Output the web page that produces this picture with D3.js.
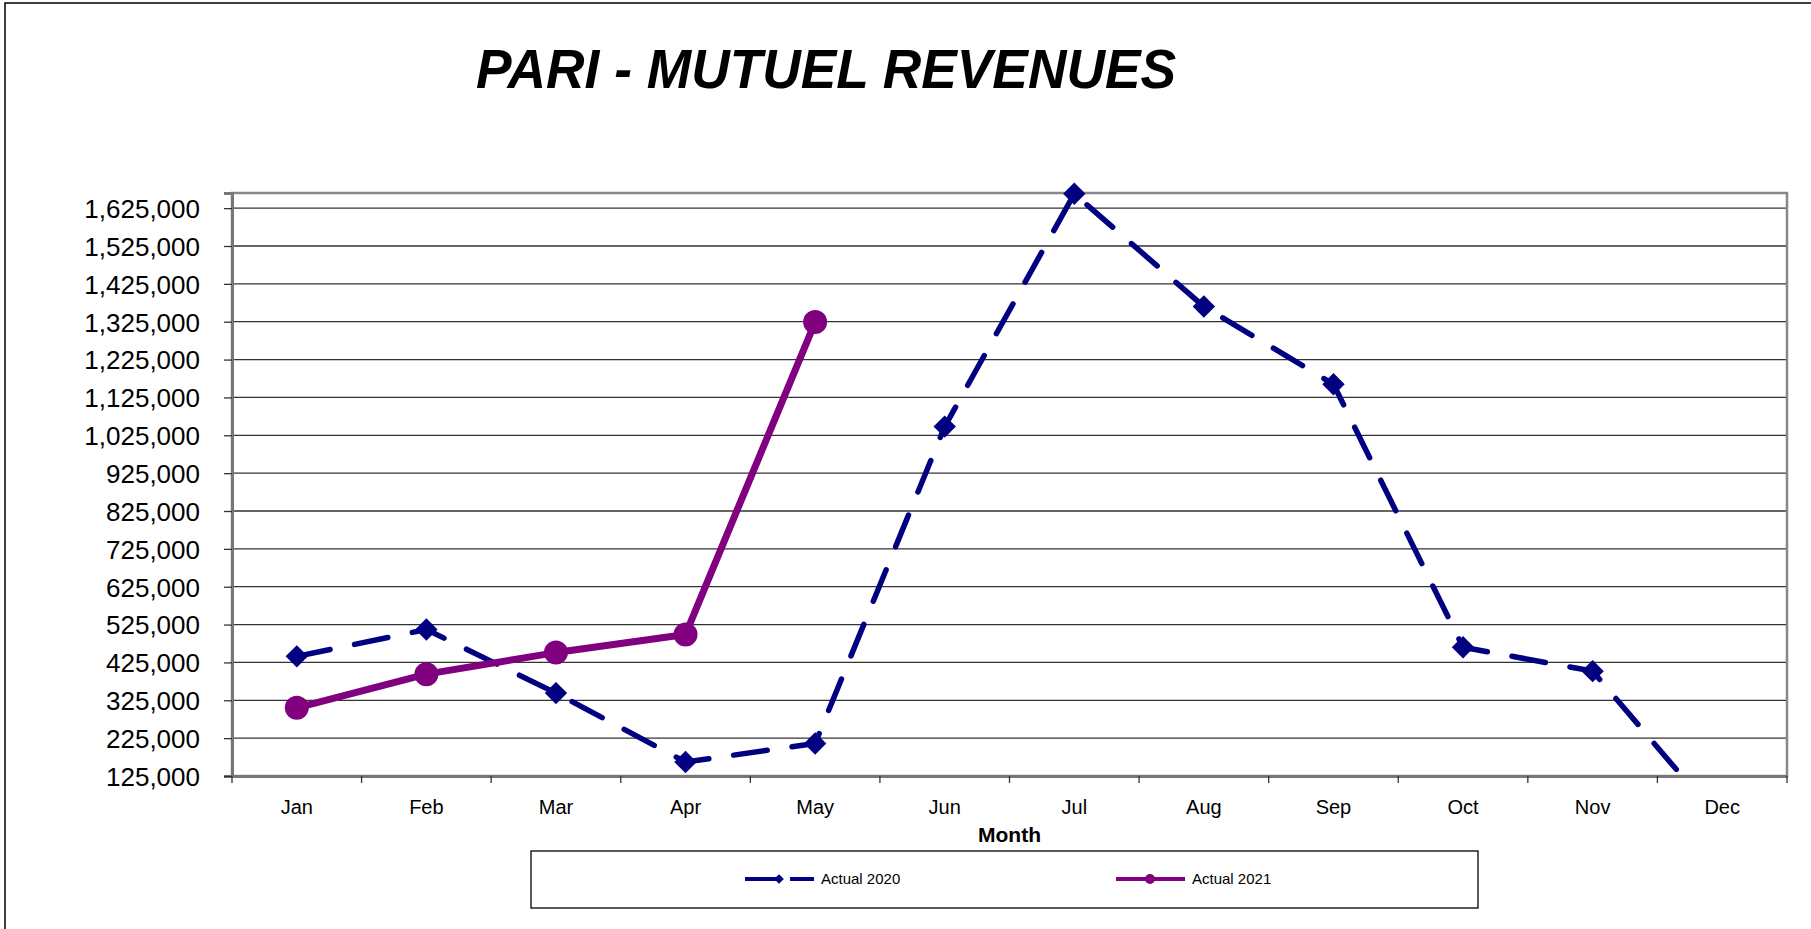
<!DOCTYPE html>
<html>
<head>
<meta charset="utf-8">
<script src="https://cdn.jsdelivr.net/npm/d3@7"></script>
<style>
  body { margin: 0; background: #fff; }
  svg { display: block; font-family: Arial, "Liberation Sans", sans-serif; }
</style>
</head>
<body>
<div class="vis-line-revenue"></div>
<script>
const months = ['Jan', 'Feb', 'Mar', 'Apr', 'May', 'Jun', 'Jul', 'Aug', 'Sep', 'Oct', 'Nov', 'Dec'];
const actual2020 = [441000, 512000, 344000, 162000, 211000, 1048000, 1663000, 1365000, 1160000, 465000, 402000, 0];
const actual2021 = [305000, 394000, 451000, 499000, 1324000];
const yTicks = [125000, 225000, 325000, 425000, 525000, 625000, 725000, 825000, 925000,
    1025000, 1125000, 1225000, 1325000, 1425000, 1525000, 1625000];

const outerWidth = 1811, outerHeight = 929;
const margin = {top: 193, right: 24, bottom: 153, left: 232};
const width = outerWidth - margin.left - margin.right;
const height = outerHeight - margin.top - margin.bottom;

const svg = d3.select('.vis-line-revenue')
    .append('svg')
    .attr('width', outerWidth)
    .attr('height', outerHeight);

// outer chart frame (only left and top edges visible)
svg.append('rect')
    .attr('x', 5).attr('y', 3)
    .attr('width', outerWidth + 10).attr('height', outerHeight + 10)
    .attr('fill', 'none').attr('stroke', '#000').attr('stroke-width', 1.5);

svg.append('text')
    .attr('x', 476).attr('y', 88)
    .attr('textLength', 700).attr('lengthAdjust', 'spacingAndGlyphs')
    .style('font-size', '56px').style('font-weight', 'bold').style('font-style', 'italic')
    .text('PARI - MUTUEL REVENUES');

const g = svg.append('g')
    .attr('transform', 'translate(' + margin.left + ',' + margin.top + ')');

const x = d3.scaleBand().domain(months).range([0, width]);
const y = d3.scaleLinear().domain([125000, 1665000]).range([height, 0]);

// gridlines
g.selectAll('.grid')
    .data(yTicks.slice(1))
    .enter().append('line')
    .attr('x1', 0).attr('x2', width)
    .attr('y1', d => y(d)).attr('y2', d => y(d))
    .attr('stroke', '#333').attr('stroke-width', 1.3);

g.append('rect')
    .attr('width', width).attr('height', height)
    .attr('fill', 'none').attr('stroke', '#888').attr('stroke-width', 2.5);

// y axis
const yAxis = g.append('g')
    .call(d3.axisLeft(y).tickValues(yTicks).tickSize(8).tickPadding(24)
        .tickFormat(d3.format(',')));
yAxis.select('.domain').attr('stroke', '#777').attr('stroke-width', 3);
yAxis.selectAll('.tick line').attr('stroke', '#333').attr('stroke-width', 1.3);
yAxis.selectAll('text').style('font-size', '26px').attr('fill', '#000').attr('dy', '0.36em');

// x axis, ticks between categories
const xAxis = g.append('g')
    .attr('transform', 'translate(0,' + height + ')')
    .call(d3.axisBottom(x).tickSize(0).tickPadding(24));
xAxis.select('.domain').attr('stroke', '#777').attr('stroke-width', 3);
xAxis.selectAll('text').style('font-size', '20px').attr('fill', '#000');

g.selectAll('.xtick')
    .data(d3.range(months.length + 1))
    .enter().append('line')
    .attr('x1', i => i * x.step()).attr('x2', i => i * x.step())
    .attr('y1', height).attr('y2', height + 7)
    .attr('stroke', '#333').attr('stroke-width', 1.3);

g.append('text')
    .attr('x', width / 2).attr('y', height + 66)
    .attr('text-anchor', 'middle')
    .style('font-size', '21px').style('font-weight', 'bold')
    .text('Month');

// lines clipped to plot area
g.append('clipPath').attr('id', 'plot-clip')
    .append('rect').attr('width', width).attr('height', height);

const line = d3.line()
    .x((d, i) => x(months[i]) + x.bandwidth() / 2)
    .y(d => y(d));

g.append('path')
    .datum(actual2020)
    .attr('clip-path', 'url(#plot-clip)')
    .attr('d', line)
    .attr('fill', 'none').attr('stroke', '#000080').attr('stroke-width', 5.5)
    .attr('stroke-linecap', 'round')
    .attr('stroke-dasharray', '34,25');

g.append('path')
    .datum(actual2021)
    .attr('d', line)
    .attr('fill', 'none').attr('stroke', '#800080').attr('stroke-width', 7)
    .attr('stroke-linejoin', 'round');

const diamond = d3.symbol().type(d3.symbolDiamond2).size(320);
const shown2020 = actual2020.map((v, i) => ({v, i})).filter(d => d.v >= y.domain()[0]);

g.selectAll('.m2020')
    .data(shown2020)
    .enter().append('path')
    .attr('d', diamond)
    .attr('transform', d => 'translate(' + (x(months[d.i]) + x.bandwidth() / 2) + ',' + y(d.v) + ')')
    .attr('fill', '#000080');

g.selectAll('.m2021')
    .data(actual2021)
    .enter().append('circle')
    .attr('cx', (d, i) => x(months[i]) + x.bandwidth() / 2)
    .attr('cy', d => y(d))
    .attr('r', 12)
    .attr('fill', '#800080');

// legend
svg.append('rect')
    .attr('x', 531).attr('y', 851).attr('width', 947).attr('height', 57)
    .attr('fill', '#fff').attr('stroke', '#000').attr('stroke-width', 1.3);

const legendData = [
    {label: 'Actual 2020', color: '#000080', dash: '37,8', x: 745, marker: 'diamond'},
    {label: 'Actual 2021', color: '#800080', dash: null, x: 1116, marker: 'circle'},
];

const legendG = svg.selectAll('.legend')
    .data(legendData)
    .enter().append('g')
    .attr('class', 'legend')
    .attr('transform', d => 'translate(' + d.x + ',' + 879 + ')');

legendG.append('line')
    .attr('x1', 0).attr('x2', 69)
    .attr('stroke', d => d.color).attr('stroke-width', 4)
    .attr('stroke-dasharray', d => d.dash);

legendG.each(function (d) {
    const sel = d3.select(this);
    if (d.marker === 'diamond') {
        sel.append('path')
            .attr('d', d3.symbol().type(d3.symbolDiamond2).size(60))
            .attr('transform', 'translate(34,0)')
            .attr('fill', d.color);
    } else {
        sel.append('circle').attr('cx', 34).attr('r', 5).attr('fill', d.color);
    }
});

legendG.append('text')
    .text(d => d.label)
    .style('font-size', '15px')
    .attr('x', 76)
    .attr('y', 5);
</script>
</body>
</html>
